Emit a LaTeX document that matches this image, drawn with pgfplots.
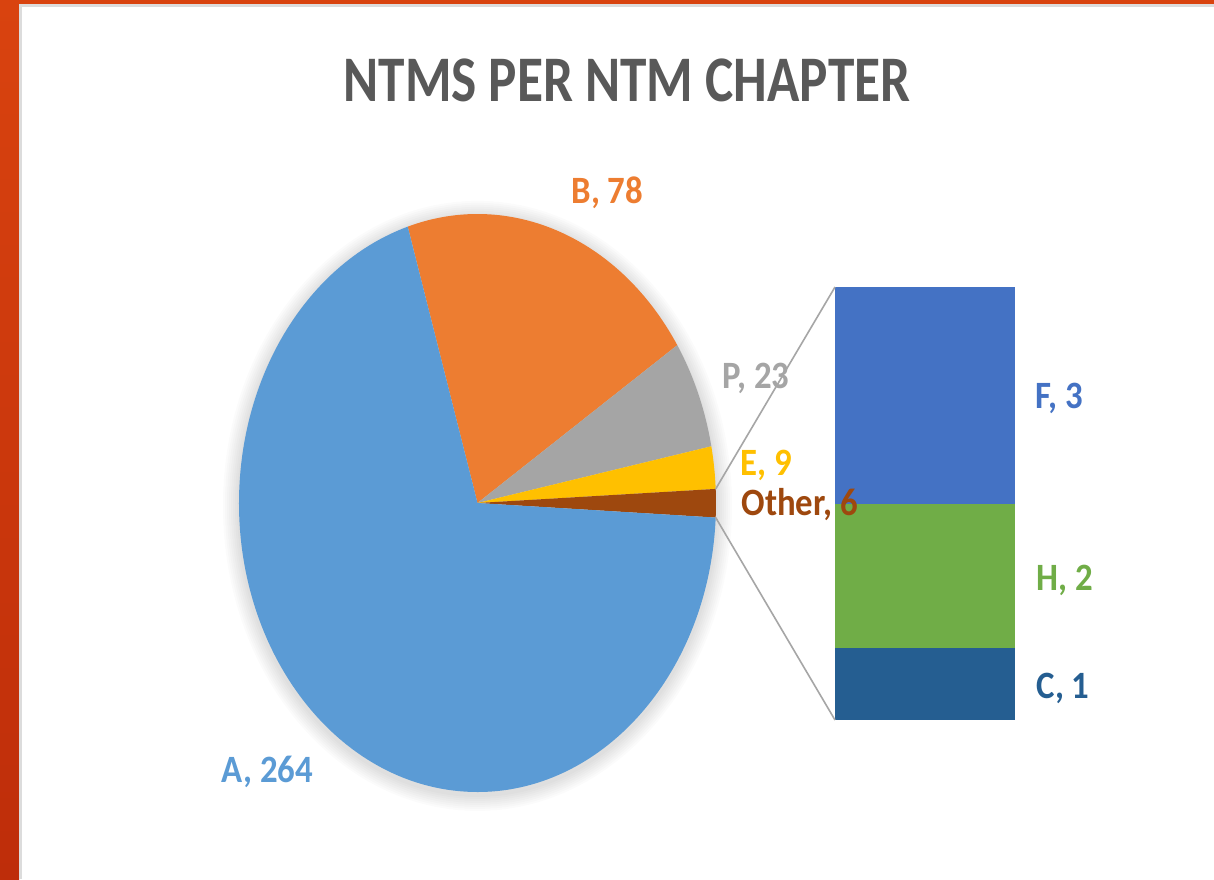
\documentclass[border=0pt]{standalone}
\usepackage{fontspec}
\setmainfont[FakeStretch=0.82]{Carlito}
\newfontfamily\labelfont[FakeStretch=0.9]{Carlito}
\usepackage{pgfplots}
\pgfplotsset{compat=1.18}
\usepackage{pgfplotstable}

\definecolor{cA}{HTML}{5B9BD5}
\definecolor{cB}{HTML}{ED7D31}
\definecolor{cP}{HTML}{A5A5A5}
\definecolor{cE}{HTML}{FFC000}
\definecolor{cO}{HTML}{9E480E}
\definecolor{cF}{HTML}{4472C4}
\definecolor{cH}{HTML}{70AD47}
\definecolor{cC}{HTML}{255E91}
\definecolor{titlegray}{HTML}{595959}
\definecolor{frametop}{HTML}{D9430F}
\definecolor{framebot}{HTML}{BE2D0A}
\definecolor{frameedge}{HTML}{DCDCDC}
\definecolor{linegray}{HTML}{A6A6A6}

% main pie, clockwise from the A/B border
\pgfplotstableread{
name value color
B 78 cB
P 23 cP
E 9 cE
Other 6 cO
A 264 cA
}\piedata

\newcommand\lbl{\labelfont\fontsize{11}{13}\selectfont\bfseries}

\begin{document}
\begin{tikzpicture}
  % slide frame
  \fill[white] (0,0) rectangle (12.14,8.79);
  \shade[top color=frametop, bottom color=framebot] (0,0) rectangle (0.19,8.79);
  \fill[frametop] (0.19,8.75) rectangle (12.14,8.79);
  \fill[frameedge] (0.19,0) rectangle (0.22,8.75);
  \fill[frameedge] (0.22,8.72) rectangle (12.14,8.75);

  \node[titlegray, font=\fontsize{18.5}{22}\selectfont\bfseries] at (6.27,7.99) {NTMS PER NTM CHAPTER};

  \begin{axis}[
    at={(2.39cm,0.87cm)}, anchor=south west,
    scale only axis, width=4.77cm, height=5.78cm,
    xmin=-1, xmax=1, ymin=-1, ymax=1,
    hide axis, clip=false,
    ]
    \pgfplotsextra{%
      % soft glow round the pie
      \foreach \g in {0.16,0.14,0.12,0.10,0.08,0.06,0.04,0.02}{%
        \fill[black, opacity=0.014] (axis cs:0,-0.01) ellipse[x radius=2.385cm+\g cm, y radius=2.89cm+\g cm];
      }%
      \gdef\pietotal{0}%
      \foreach \i in {0,...,4}{%
        \pgfplotstablegetelem{\i}{value}\of\piedata
        \pgfmathsetmacro\tmp{\pietotal+\pgfplotsretval}%
        \global\let\pietotal\tmp
      }%
      \gdef\angA{107}%
      \foreach \i in {0,...,4}{%
        \pgfplotstablegetelem{\i}{value}\of\piedata
        \let\v\pgfplotsretval
        \pgfplotstablegetelem{\i}{color}\of\piedata
        \let\col\pgfplotsretval
        \pgfmathsetmacro\angB{\angA-\v/\pietotal*360}%
        \pgfmathsetmacro\xs{cos(\angA)}%
        \pgfmathsetmacro\ys{sin(\angA)}%
        \coordinate (edge\i) at (axis cs:\xs,\ys);
        \fill[fill=\col] (axis cs:0,0) -- (axis cs:\xs,\ys)
          arc[start angle=\angA, end angle=\angB, x radius=2.385cm, y radius=2.89cm] -- cycle;
        \global\let\angA\angB
      }%
    }
  \end{axis}

  \begin{axis}[
    at={(8.35cm,1.59cm)}, anchor=south west,
    scale only axis, width=1.8cm, height=4.33cm,
    xmin=0, xmax=1, ymin=0, ymax=6,
    ybar stacked, bar width=1.8cm,
    enlargelimits=false, hide axis, clip=false,
    ]
    \addplot[fill=cC, draw=none] coordinates {(0.5,1)};
    \addplot[fill=cH, draw=none] coordinates {(0.5,2)};
    \addplot[fill=cF, draw=none] coordinates {(0.5,3)};
    \coordinate (btop) at (axis cs:0,6);
    \coordinate (bbot) at (axis cs:0,0);
  \end{axis}

  % data labels
  \node[cB, font=\lbl] at (6.075,6.86) {B, 78};
  \node[cP, font=\lbl, anchor=west, inner sep=0pt] at (7.22,5.01) {P, 23};
  \node[cE, font=\lbl, anchor=west, inner sep=0pt] at (7.40,4.14) {E, 9};
  \node[cO, font=\lbl, anchor=west, inner sep=0pt] at (7.41,3.74) {Other, 6};
  \node[cA, font=\lbl] at (2.675,1.07) {A, 264};
  \node[cF, font=\lbl, anchor=west, inner sep=0pt] at (10.35,4.81) {F, 3};
  \node[cH, font=\lbl, anchor=west, inner sep=0pt] at (10.36,2.99) {H, 2};
  \node[cC, font=\lbl, anchor=west, inner sep=0pt] at (10.36,1.91) {C, 1};

  % connector lines to the breakdown bar
  \draw[linegray, line width=0.016cm] (edge3) -- (btop);
  \draw[linegray, line width=0.016cm] (edge4) -- (bbot);
\end{tikzpicture}
\end{document}
